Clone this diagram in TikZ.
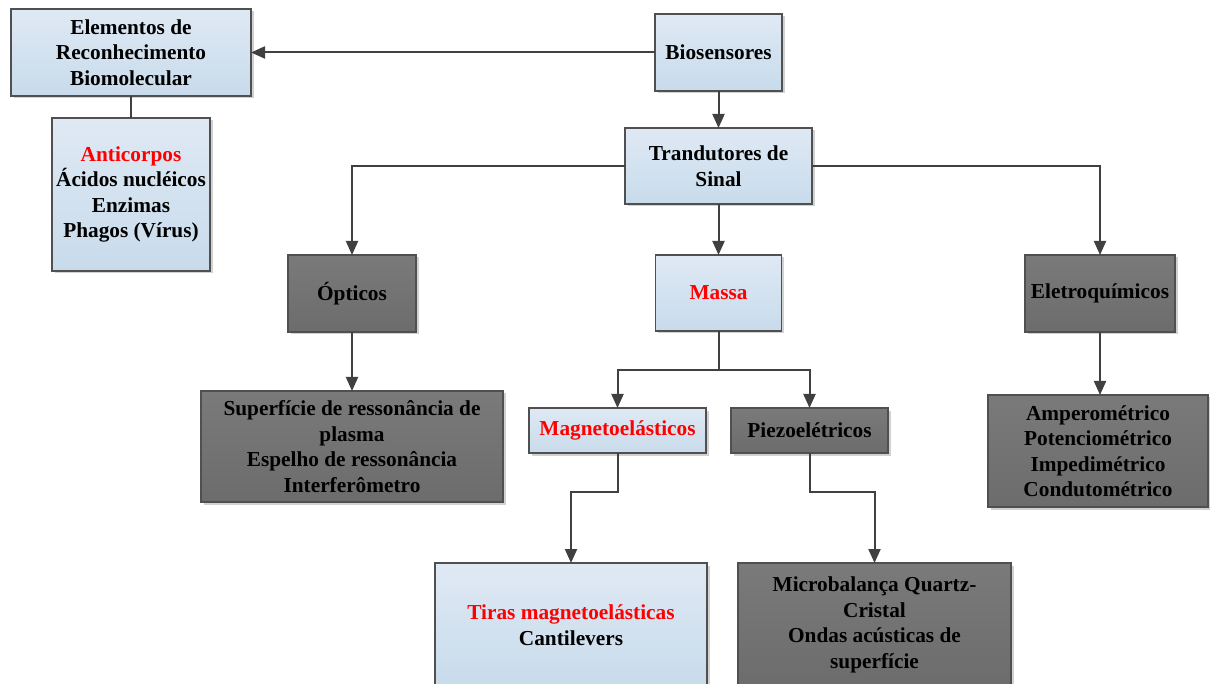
\documentclass[tikz,border=0pt]{standalone}
\usepackage{fontspec}
\setmainfont{Liberation Serif}
\usetikzlibrary{arrows.meta,shadows}
\definecolor{lbtop}{HTML}{DFE9F4}
\definecolor{lbbot}{HTML}{C8DBEB}
\definecolor{dktop}{HTML}{7A7A7A}
\definecolor{dkbot}{HTML}{6C6C6C}
\definecolor{edge}{HTML}{505050}
\definecolor{lnk}{HTML}{404040}
\definecolor{txtred}{HTML}{FF0000}
\begin{document}
\begin{tikzpicture}[x=1pt,y=-1pt,
  boxbase/.style={rectangle, draw=edge, line width=1.3pt, inner sep=0pt, outer sep=0pt, align=center,
    font=\fontsize{21.3pt}{25.5pt}\selectfont\bfseries,
    drop shadow={shadow xshift=2.5pt, shadow yshift=-2.5pt, fill=black, opacity=0.18}},
  lbox/.style={boxbase, top color=lbtop, bottom color=lbbot},
  dbox/.style={boxbase, top color=dktop, bottom color=dkbot},
  arr/.style={draw=lnk, line width=2pt, -{Triangle[length=14pt 0,width=12pt 0]}},
  lin/.style={draw=lnk, line width=2pt}
]
\useasboundingbox (0,0) rectangle (1210,684);
\fill[white] (0,0) rectangle (1210,684);

\node[lbox, minimum width=240pt, minimum height=87pt] (elem) at (131,52.5) {Elementos de\\Reconhecimento\\Biomolecular};
\node[lbox, minimum width=158pt, minimum height=153pt] (anti) at (131,194.5) {\textcolor{txtred}{Anticorpos}\\Ácidos nucléicos\\Enzimas\\Phagos (Vírus)};
\node[lbox, minimum width=127pt, minimum height=77pt] (bio) at (718.5,52.5) {Biosensores};
\node[lbox, minimum width=187pt, minimum height=76pt] (trand) at (718.5,166) {Trandutores de\\Sinal};
\node[dbox, minimum width=128pt, minimum height=77pt] (opt) at (352,293.5) {Ópticos};
\node[lbox, minimum width=126pt, minimum height=76pt] (massa) at (718.5,293) {\textcolor{txtred}{Massa}};
\node[dbox, minimum width=150pt, minimum height=77pt] (eletro) at (1100,293.5) {Eletroquímicos};
\node[dbox, minimum width=302pt, minimum height=111pt] (sup) at (352,446.5) {Superfície de ressonância de\\plasma\\Espelho de ressonância\\Interferômetro};
\node[lbox, minimum width=177pt, minimum height=45pt] (magn) at (617.5,430.5) {\textcolor{txtred}{Magnetoelásticos}};
\node[dbox, minimum width=157pt, minimum height=45pt] (piezo) at (809.5,430.5) {Piezoelétricos};
\node[dbox, minimum width=220pt, minimum height=112pt] (amp) at (1098,451) {Amperométrico\\Potenciométrico\\Impedimétrico\\Condutométrico};
\node[lbox, minimum width=272pt, minimum height=124pt] (tiras) at (571,625) {\textcolor{txtred}{Tiras magnetoelásticas}\\Cantilevers};
\node[dbox, minimum width=273pt, minimum height=124pt] (micro) at (874.5,625) {Microbalança Quartz-\\Cristal\\Ondas acústicas de\\superfície};

\draw[arr] (bio.west) -- (elem.east);
\draw[lin] (elem.south) -- (anti.north);
\draw[arr] (bio.south) -- (trand.north);
\draw[arr] (trand.west) -| (opt.north);
\draw[arr] (trand.east) -| (eletro.north);
\draw[arr] (trand.south) -- (massa.north);
\draw[arr] (opt.south) -- (sup.north);
\draw[arr] (eletro.south) -- (eletro.south |- amp.north);
\draw[lin] (massa.south) -- ++(0,39) coordinate (mj);
\draw[arr] (mj) -| (magn.north);
\draw[arr] (mj) -| (piezo.north);
\draw[arr] (magn.south) -- ++(0,39) -| (tiras.north);
\draw[arr] (piezo.south) -- ++(0,39) -| (micro.north);
\end{tikzpicture}
\end{document}
